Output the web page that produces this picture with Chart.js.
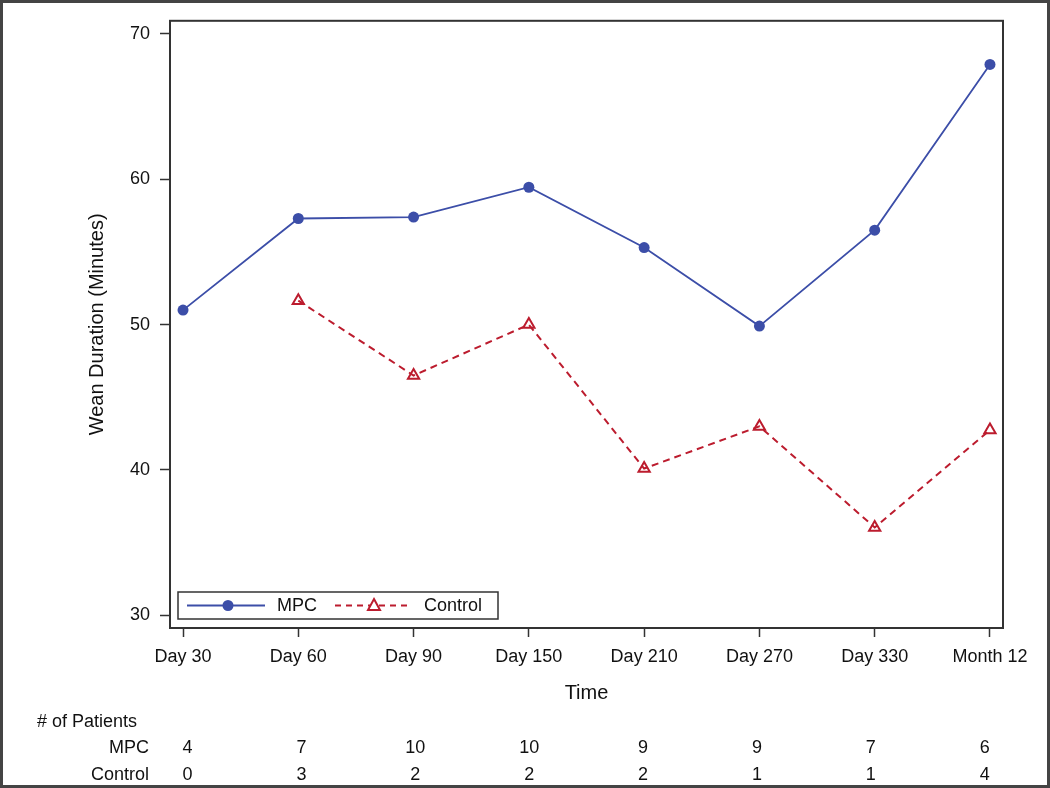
<!DOCTYPE html>
<html>
<head>
<meta charset="utf-8">
<script src="https://cdn.jsdelivr.net/npm/chart.js@4.4.0/dist/chart.umd.min.js"></script>
<style>
  body { margin: 0; background: #fff; }
  canvas { display: block; }
</style>
</head>
<body>
<canvas id="weanChart" width="1050" height="788"></canvas>
<script>
// data
const timePoints = ["Day 30", "Day 60", "Day 90", "Day 150", "Day 210", "Day 270", "Day 330", "Month 12"];
const mpcMinutes = [51.0, 57.3, 57.4, 59.45, 55.3, 49.9, 56.5, 67.9];
const controlMinutes = [null, 51.65, 46.5, 50.0, 40.1, 43.0, 36.05, 42.75];
const mpcPatients = [4, 7, 10, 10, 9, 9, 7, 6];
const controlPatients = [0, 3, 2, 2, 2, 1, 1, 4];
const yTicks = [30, 40, 50, 60, 70];

const FONT = "'Liberation Sans', Arial, sans-serif";
const BLUE = "#3c4ea8";
const RED = "#bc1c2e";
const INK = "#333";

function toPoints(values) {
  return values.map((v, i) => ({ x: i, y: v }));
}

// frame around plot area + outer border
const framePlugin = {
  id: "frame",
  afterDraw(chart) {
    const { ctx, chartArea: a } = chart;
    ctx.save();
    ctx.strokeStyle = INK;
    ctx.lineWidth = 2;
    ctx.strokeRect(a.left, a.top, a.right - a.left, a.bottom - a.top);
    ctx.strokeStyle = "#444";
    ctx.lineWidth = 3;
    ctx.strokeRect(1.5, 1.5, chart.width - 3, chart.height - 3);
    ctx.restore();
  }
};

// legend box inside the plot, bottom left
const legendPlugin = {
  id: "insideLegend",
  afterDatasetsDraw(chart) {
    const ctx = chart.ctx;
    const a = chart.chartArea;
    const x0 = a.left + 8, y0 = a.bottom - 36, w = 320, h = 27;
    const cy = y0 + h / 2;
    ctx.save();
    ctx.fillStyle = "#fff";
    ctx.fillRect(x0, y0, w, h);
    ctx.strokeStyle = INK;
    ctx.lineWidth = 1.5;
    ctx.strokeRect(x0, y0, w, h);

    // MPC
    ctx.strokeStyle = BLUE;
    ctx.lineWidth = 1.8;
    ctx.beginPath();
    ctx.moveTo(x0 + 9, cy);
    ctx.lineTo(x0 + 87, cy);
    ctx.stroke();
    ctx.fillStyle = BLUE;
    ctx.beginPath();
    ctx.arc(x0 + 50, cy, 5.5, 0, Math.PI * 2);
    ctx.fill();

    ctx.fillStyle = "#111";
    ctx.font = "18px " + FONT;
    ctx.textBaseline = "middle";
    ctx.textAlign = "left";
    ctx.fillText("MPC", x0 + 99, cy + 1);

    // Control
    ctx.strokeStyle = RED;
    ctx.lineWidth = 2;
    ctx.setLineDash([6, 5]);
    ctx.beginPath();
    ctx.moveTo(x0 + 157, cy);
    ctx.lineTo(x0 + 230, cy);
    ctx.stroke();
    ctx.setLineDash([]);
    const tx = x0 + 196;
    ctx.fillStyle = "#fff";
    ctx.beginPath();
    ctx.moveTo(tx, cy - 6.5);
    ctx.lineTo(tx + 6, cy + 4.5);
    ctx.lineTo(tx - 6, cy + 4.5);
    ctx.closePath();
    ctx.fill();
    ctx.stroke();

    ctx.fillStyle = "#111";
    ctx.fillText("Control", x0 + 246, cy + 1);
    ctx.restore();
  }
};

// "# of Patients" table under the x axis
const patientTablePlugin = {
  id: "patientTable",
  afterDraw(chart) {
    const ctx = chart.ctx;
    const xs = chart.scales.x;
    ctx.save();
    ctx.fillStyle = "#111";
    ctx.font = "18px " + FONT;
    ctx.textBaseline = "middle";
    ctx.textAlign = "left";
    ctx.fillText("# of Patients", 37, 722);
    ctx.textAlign = "right";
    ctx.fillText("MPC", 149, 748);
    ctx.fillText("Control", 149, 775);
    ctx.textAlign = "center";
    timePoints.forEach((_, i) => {
      // table columns sit slightly tighter than the axis categories
      const px = xs.getPixelForValue(i) + 4.5 - i * 1.4;
      ctx.fillText(String(mpcPatients[i]), px, 748);
      ctx.fillText(String(controlPatients[i]), px, 775);
    });
    ctx.restore();
  }
};

const ctx = document.getElementById("weanChart").getContext("2d");
new Chart(ctx, {
  type: "line",
  data: {
    datasets: [
      {
        label: "MPC",
        data: toPoints(mpcMinutes),
        borderColor: BLUE,
        backgroundColor: BLUE,
        borderWidth: 1.8,
        pointStyle: "circle",
        pointRadius: 5.5,
        pointBorderWidth: 0,
        tension: 0
      },
      {
        label: "Control",
        data: toPoints(controlMinutes),
        borderColor: RED,
        backgroundColor: "#fff",
        borderWidth: 2,
        borderDash: [7, 5],
        pointStyle: "triangle",
        pointRadius: 6.5,
        pointBorderWidth: 2,
        pointBorderColor: RED,
        pointBackgroundColor: "rgba(255,255,255,0)",
        tension: 0
      }
    ]
  },
  options: {
    responsive: false,
    animation: false,
    layout: { padding: { left: 85, right: 47, top: 19, bottom: 83 } },
    plugins: {
      legend: { display: false },
      tooltip: { enabled: false }
    },
    scales: {
      x: {
        type: "linear",
        min: -0.113,
        max: 7.113,
        afterBuildTicks: (scale) => {
          scale.ticks = timePoints.map((_, i) => ({ value: i }));
        },
        afterFit: (scale) => { scale.height = 77; },
        ticks: {
          autoSkip: false,
          maxRotation: 0,
          padding: 9,
          color: "#111",
          font: { family: FONT, size: 18 },
          callback: (v) => timePoints[v]
        },
        grid: {
          drawOnChartArea: false,
          drawTicks: true,
          tickLength: 9,
          tickColor: INK,
          tickWidth: 1.5
        },
        border: { display: true, color: INK, width: 2 },
        title: {
          display: true,
          text: "Time",
          color: "#111",
          padding: 0,
          font: { family: FONT, size: 20 }
        }
      },
      y: {
        min: 29.13,
        max: 70.9,
        afterBuildTicks: (scale) => {
          scale.ticks = yTicks.map((v) => ({ value: v }));
        },
        afterFit: (scale) => { scale.width = 85; },
        ticks: {
          padding: 10,
          color: "#111",
          font: { family: FONT, size: 18 }
        },
        grid: {
          drawOnChartArea: false,
          drawTicks: true,
          tickLength: 10,
          tickColor: INK,
          tickWidth: 1.5
        },
        border: { display: true, color: INK, width: 2 },
        title: {
          display: true,
          text: "Wean Duration (Minutes)",
          color: "#111",
          padding: 0,
          font: { family: FONT, size: 20 }
        }
      }
    }
  },
  plugins: [framePlugin, legendPlugin, patientTablePlugin]
});
</script>
</body>
</html>
